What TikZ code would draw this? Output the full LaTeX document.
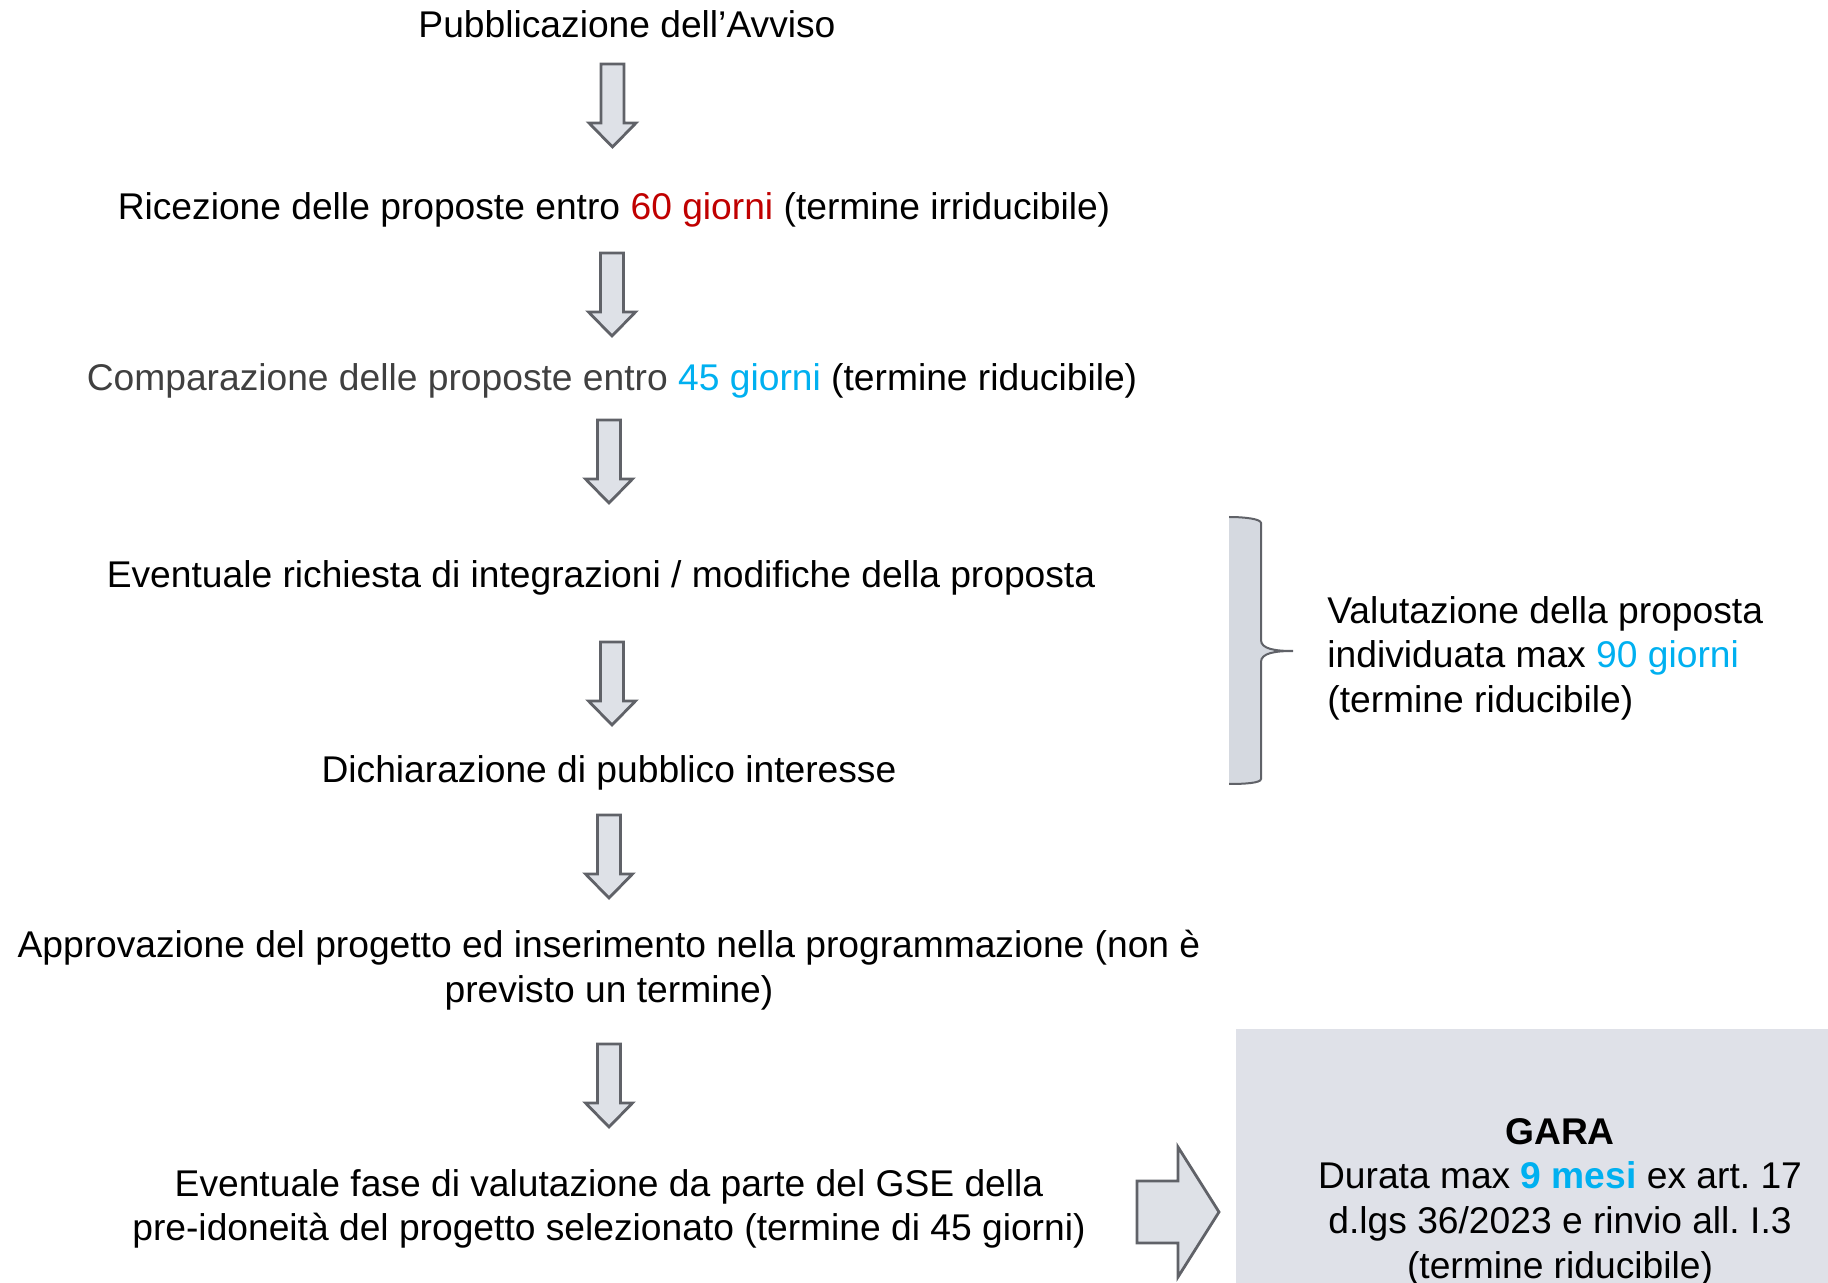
\documentclass[tikz,border=0pt]{standalone}
\usepackage{fontspec}
\setmainfont{Liberation Sans}
\frenchspacing
\definecolor{arrfill}{HTML}{DEE1E7}
\definecolor{arrdraw}{HTML}{606268}
\definecolor{bracefill}{HTML}{D5D9E0}
\definecolor{garafill}{HTML}{DFE1E8}
\definecolor{redt}{HTML}{C00000}
\definecolor{bluet}{HTML}{00B0F0}
\definecolor{grayt}{HTML}{404040}
\tikzset{
  txt/.style={inner sep=0pt, font=\fontsize{18.6pt}{22.3pt}\selectfont, align=center, text=black},
  blockarrow/.style={fill=arrfill, draw=arrdraw, line width=1.4pt, line join=miter},
}
\newcommand{\downblock}[2]{%
  \draw[blockarrow] (#1-11.5,#2) -- (#1+11.5,#2) -- (#1+11.5,#2+59) -- (#1+23.5,#2+59)
    -- (#1,#2+83) -- (#1-23.5,#2+59) -- (#1-11.5,#2+59) -- cycle;}
\begin{document}
\begin{tikzpicture}[x=0.5pt,y=-0.5pt]
\useasboundingbox (0,0) rectangle (1828,1283);
% GARA box
\fill[garafill] (1236,1029) rectangle (1828,1283);
% text nodes
\node[txt] (n1) at (627,24) {Pubblicazione dell’Avviso};
\node[txt] (n2) at (614,210) {Ricezione delle proposte entro \textcolor{redt}{60 giorni} (termine irriducibile)};
\node[txt] (n3) at (612,381) {\textcolor{grayt}{Comparazione delle proposte entro} \textcolor{bluet}{45 giorni} (termine riducibile)};
\node[txt] (n4) at (601,578) {Eventuale richiesta di integrazioni / modifiche della proposta};
\node[txt] (n5) at (609,773) {Dichiarazione di pubblico interesse};
\node[txt] (n6) at (609,970) {Approvazione del progetto ed inserimento nella programmazione (non è\\previsto un termine)};
\node[txt] (n7) at (609,1209) {Eventuale fase di valutazione da parte del GSE della\\pre-idoneità del progetto selezionato (termine di 45 giorni)};
\node[txt, align=left, anchor=west] (val) at (1327,658) {Valutazione della proposta\\individuata max \textcolor{bluet}{90 giorni}\\(termine riducibile)};
\node[txt] (gara) at (1560,1202) {\textbf{GARA}\\Durata max \textcolor{bluet}{\textbf{9 mesi}} ex art. 17\\d.lgs 36/2023 e rinvio all. I.3\\(termine riducibile)};
% down arrows
\downblock{612.5}{64}
\downblock{612}{253}
\downblock{609}{420}
\downblock{612}{642}
\downblock{609}{815}
\downblock{609}{1044}
% right arrow
\draw[blockarrow] (1137,1181) -- (1178,1181) -- (1178,1147) -- (1219,1212) -- (1178,1277)
  -- (1178,1243) -- (1137,1243) -- cycle;
% brace
\fill[bracefill] (1229,517) .. controls (1245,517) and (1261,519) .. (1261,523) -- (1261,640)
  .. controls (1261,649) and (1275,651) .. (1293,651)
  .. controls (1275,651) and (1261,653) .. (1261,662) -- (1261,779)
  .. controls (1261,783) and (1245,784) .. (1229,784) -- cycle;
\draw[arrdraw, line width=1pt] (1229,517) .. controls (1245,517) and (1261,519) .. (1261,523) -- (1261,640)
  .. controls (1261,649) and (1275,651) .. (1293,651)
  .. controls (1275,651) and (1261,653) .. (1261,662) -- (1261,779)
  .. controls (1261,783) and (1245,784) .. (1229,784);
\end{tikzpicture}
\end{document}
